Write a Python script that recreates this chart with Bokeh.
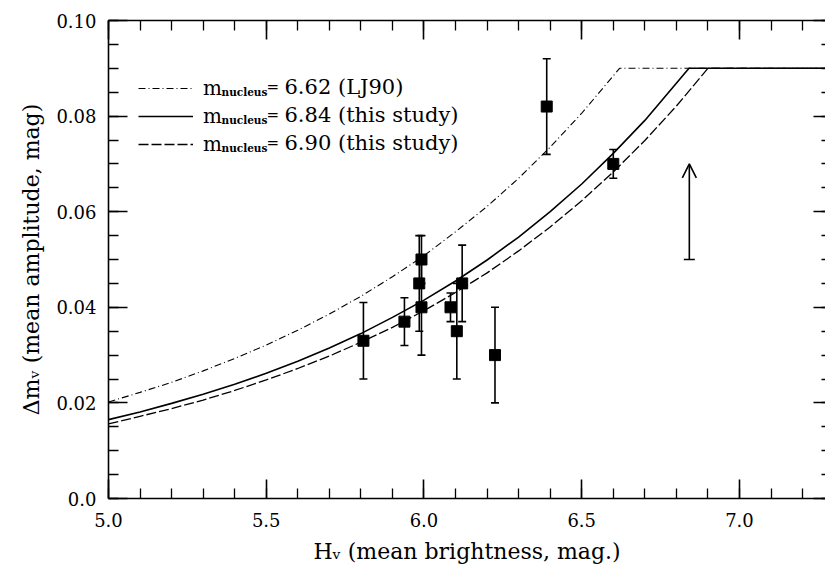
from bokeh.plotting import figure
from bokeh.models import (Range1d, LinearAxis, FixedTicker, ColumnDataSource, Whisker,
                          TeeHead, OpenHead, Arrow, Label, Legend, LegendItem)
from bokeh.embed import file_html
from bokeh.resources import INLINE

# ---------------- data ----------------
obs_h   = [5.808, 5.938, 5.992, 5.985, 5.992, 6.084, 6.104, 6.121, 6.225, 6.389, 6.600]
obs_amp = [0.033, 0.037, 0.050, 0.045, 0.040, 0.040, 0.035, 0.045, 0.030, 0.082, 0.070]
obs_err = [0.008, 0.005, 0.005, 0.010, 0.010, 0.003, 0.010, 0.008, 0.010, 0.010, 0.003]

# lower-limit arrow
arrow_h   = [6.841]
arrow_amp = [0.050, 0.070]

# model curves (m_nucleus = 6.62, 6.84, 6.90)
curve_h_662   = [5.0, 5.1, 5.2, 5.3, 5.4, 5.5, 5.6, 5.7, 5.8, 5.9, 6.0, 6.1, 6.2, 6.3, 6.4, 6.5, 6.62, 7.3]
curve_amp_662 = [0.0202, 0.0222, 0.0243, 0.0267, 0.0293, 0.0321, 0.0352, 0.0386, 0.0423, 0.0464,
                 0.0508, 0.0558, 0.0611, 0.0670, 0.0735, 0.0806, 0.0900, 0.0900]

curve_h_684   = [5.0, 5.1, 5.2, 5.3, 5.4, 5.5, 5.6, 5.7, 5.8, 5.9, 6.0, 6.1, 6.2, 6.3, 6.4, 6.5, 6.6, 6.7, 6.84, 7.3]
curve_amp_684 = [0.0165, 0.0181, 0.0199, 0.0218, 0.0239, 0.0262, 0.0287, 0.0315, 0.0345, 0.0379,
                 0.0415, 0.0455, 0.0499, 0.0547, 0.0600, 0.0658, 0.0722, 0.0791, 0.0900, 0.0900]

curve_h_690   = [5.0, 5.1, 5.2, 5.3, 5.4, 5.5, 5.6, 5.7, 5.8, 5.9, 6.0, 6.1, 6.2, 6.3, 6.4, 6.5, 6.6, 6.7, 6.8, 6.9, 7.3]
curve_amp_690 = [0.0156, 0.0172, 0.0188, 0.0206, 0.0226, 0.0248, 0.0272, 0.0298, 0.0327, 0.0358,
                 0.0393, 0.0431, 0.0472, 0.0518, 0.0568, 0.0623, 0.0683, 0.0749, 0.0821, 0.0900, 0.0900]

legend_values = ["6.62 (LJ90)", "6.84 (this study)", "6.90 (this study)"]

x_tick_vals   = [5.0, 5.5, 6.0, 6.5, 7.0]
x_tick_labels = ["5.0", "5.5", "6.0", "6.5", "7.0"]
y_tick_vals   = [0.0, 0.02, 0.04, 0.06, 0.08, 0.1]
y_tick_labels = ["0.0", "0.02", "0.04", "0.06", "0.08", "0.10"]

x_title = "Hᵥ (mean brightness, mag.)"
y_title = "Δmᵥ (mean amplitude, mag)"

FONT = "DejaVu Serif"

# ---------------- figure ----------------
p = figure(width=825, height=569, output_backend="svg", toolbar_location=None,
           x_range=Range1d(5.0, 7.2726), y_range=Range1d(0.0, 0.10),
           min_border_left=108, min_border_right=0, min_border_top=20, min_border_bottom=71)
p.outline_line_color = None
p.xgrid.visible = False
p.ygrid.visible = False
p.background_fill_color = "white"
p.border_fill_color = "white"

x_minor = [round(5.0 + 0.1 * i, 1) for i in range(0, 24)]
y_minor = [round(0.005 * i, 3) for i in range(0, 21)]
xticker = FixedTicker(ticks=x_tick_vals, minor_ticks=x_minor)
yticker = FixedTicker(ticks=y_tick_vals, minor_ticks=y_minor)


def style(ax, labels=True, major_in=19, minor_in=10, line=True):
    ax.axis_line_width = 1.6
    ax.axis_line_color = "black" if line else None
    ax.major_tick_in = major_in
    ax.major_tick_out = 0
    ax.minor_tick_in = minor_in
    ax.minor_tick_out = 0
    ax.major_tick_line_width = 1.6
    ax.minor_tick_line_width = 1.3
    ax.major_tick_line_color = "black"
    ax.minor_tick_line_color = "black"
    if labels:
        ax.major_label_text_font = FONT
        ax.major_label_text_font_size = "18px"
        ax.major_label_text_color = "black"
        ax.major_label_standoff = 12
        ax.axis_label_text_font = FONT
        ax.axis_label_text_font_size = "22px"
        ax.axis_label_text_font_style = "normal"
        ax.axis_label_text_color = "black"
        ax.axis_label_standoff = 9
    else:
        ax.major_label_text_font_size = "1px"
        ax.major_label_text_color = None
        ax.major_label_standoff = 0
        ax.axis_label = None


xa = p.xaxis[0]
xa.ticker = xticker
xa.major_label_overrides = dict(zip(x_tick_vals, x_tick_labels))
style(xa)
xa.major_label_standoff = 14
xa.axis_label = x_title

ya = p.yaxis[0]
ya.ticker = yticker
ya.major_label_overrides = dict(zip(y_tick_vals, y_tick_labels))
style(ya)
ya.axis_label = y_title

top = LinearAxis(ticker=xticker)
style(top, labels=False)
p.add_layout(top, "above")

right = LinearAxis(ticker=yticker)
style(right, labels=False, major_in=12, minor_in=4, line=False)
p.add_layout(right, "right")

# ---------------- curves ----------------
r662 = p.line(curve_h_662, curve_amp_662, line_color="black", line_width=1.1, line_dash="7 3 1 3")
r684 = p.line(curve_h_684, curve_amp_684, line_color="black", line_width=1.6)
r690 = p.line(curve_h_690, curve_amp_690, line_color="black", line_width=1.3, line_dash="10 3")

# ---------------- observations ----------------
src = ColumnDataSource(dict(
    h=obs_h, amp=obs_amp,
    lo=[a - e for a, e in zip(obs_amp, obs_err)],
    hi=[a + e for a, e in zip(obs_amp, obs_err)],
))
p.add_layout(Whisker(base="h", lower="lo", upper="hi", source=src, dimension="height",
                     line_color="black", line_width=1.6,
                     upper_head=TeeHead(size=8, line_width=1.6, line_color="black"),
                     lower_head=TeeHead(size=8, line_width=1.6, line_color="black")))
p.scatter("h", "amp", source=src, marker="square", size=11, color="black")

p.add_layout(Arrow(x_start=arrow_h[0], y_start=arrow_amp[0], x_end=arrow_h[0], y_end=arrow_amp[1],
                   line_width=1.6, line_color="black",
                   start=TeeHead(size=11, line_width=1.6, line_color="black"),
                   end=OpenHead(size=14, line_width=1.6, line_color="black")))

# ---------------- legend ----------------
legend = Legend(items=[LegendItem(label="m", renderers=[r662]),
                       LegendItem(label="m", renderers=[r684]),
                       LegendItem(label="m", renderers=[r690])],
                location=(30, 340), glyph_width=55, glyph_height=28, label_height=28,
                spacing=0, padding=0, margin=0, label_standoff=10,
                border_line_color=None, background_fill_alpha=0,
                label_text_font=FONT, label_text_font_size="20px", label_text_color="black")
p.add_layout(legend)

row_base = [412, 384, 356]
for yb, txt in zip(row_base, legend_values):
    p.add_layout(Label(x=113, y=yb - 5, x_units="screen", y_units="screen", text="nucleus",
                       text_font=FONT, text_font_size="10.5px", text_font_style="bold",
                       text_color="black", text_baseline="alphabetic"))
    p.add_layout(Label(x=158, y=yb, x_units="screen", y_units="screen", text="=",
                       text_font=FONT, text_font_size="15px", text_color="black",
                       text_baseline="alphabetic"))
    p.add_layout(Label(x=176, y=yb, x_units="screen", y_units="screen", text=txt,
                       text_font=FONT, text_font_size="21px", text_color="black",
                       text_baseline="alphabetic"))

open("out.html", "w").write(file_html(p, INLINE))
